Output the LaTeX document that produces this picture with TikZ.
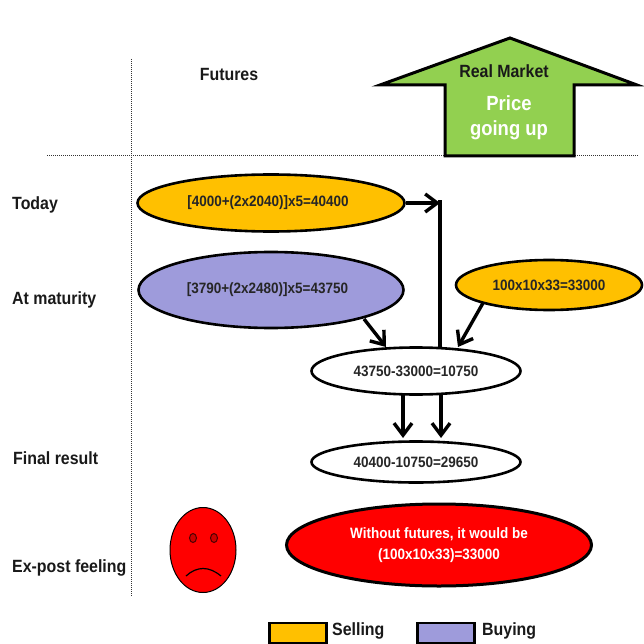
\documentclass[tikz,border=0pt]{standalone}
\usepackage{fontspec}
\setmainfont[FakeStretch=0.9]{Liberation Sans}
\usetikzlibrary{arrows.meta,shapes.geometric}
\definecolor{sellc}{HTML}{FFC000}
\definecolor{buyc}{HTML}{9E9BDB}
\definecolor{arrowg}{HTML}{92D050}
\tikzset{
 lab/.style={font=\fontsize{17.7}{20}\selectfont\bfseries,inner sep=0pt,text=black!90},
 oval/.style={ellipse,draw=black,line width=2.6pt,inner sep=0pt,font=\fontsize{15}{21}\selectfont\bfseries,text=black!85},
 conn/.style={line width=3.4pt,-{Straight Barb[length=12pt,width=18pt,line width=3.4pt]}},
 plainconn/.style={line width=3.2pt},
 dotline/.style={line width=1pt,densely dotted,black!80},
 legendbox/.style={draw=black,line width=2.6pt,inner sep=0pt,minimum width=57pt,minimum height=20pt}
}
\begin{document}
\begin{tikzpicture}[x=1pt,y=-1pt]
\useasboundingbox (0,0) rectangle (643,644);
% dotted frame lines
\coordinate (vt) at (131,59); \coordinate (vb) at (131,597);
\coordinate (hl) at (47,156); \coordinate (hr) at (638,156);
\draw[dotline] (vt) -- (vb);
\draw[dotline] (hl) -- (hr);
% real market arrow
\draw[fill=arrowg,line width=3pt,line join=miter] (510,38) -- (637,85) -- (574,85) -- (574,156) -- (445,156) -- (445,85) -- (380,85) -- cycle;
\node[lab] (rm) at (504,71.5) {Real Market};
\node[font=\fontsize{20.5}{25}\selectfont\bfseries,text=white,align=center,inner sep=0pt] (pg) at (509,118) {Price\\going up};
% row labels
\node[lab] (fut) at (229,74.5) {Futures};
\node[lab,anchor=west] (today) at (12,205) {Today};
\node[lab,anchor=west] (mat) at (12,300) {At maturity};
\node[lab,anchor=west] (fin) at (13,458.5) {Final result};
\node[lab,anchor=west] (exp) at (12,568) {Ex-post feeling};
% ovals
\node[oval,fill=sellc,minimum width=267pt,minimum height=57pt] (a) at (271,203) {\raisebox{-1pt}{[4000+(2x2040)]x5=40400}\kern6pt};
\node[oval,fill=buyc,minimum width=265pt,minimum height=76pt] (b) at (271,290) {\raisebox{-2.5pt}{[3790+(2x2480)]x5=43750}\kern7pt};
\node[oval,fill=sellc,minimum width=186pt,minimum height=50pt] (c) at (549,285) {100x10x33=33000};
\node[oval,fill=white,minimum width=209pt,minimum height=47pt] (d) at (416,371) {43750-33000=10750};
\node[oval,fill=white,minimum width=209pt,minimum height=41pt] (e) at (416,462) {40400-10750=29650};
\node[oval,fill=red,line width=3pt,minimum width=305pt,minimum height=82pt,text=white,align=center] (f) at (439,545) {\raisebox{-2pt}{Without futures, it would be}\\\raisebox{-2pt}{(100x10x33)=33000}};
% connectors
\coordinate (j) at (440,200);
\coordinate (e1) at (403,438); \coordinate (e2) at (441,438);
\coordinate (d1) at (403,394); \coordinate (d2) at (441,394);
\coordinate (dj) at (440,347);
\coordinate (bs) at (364,319); \coordinate (bt) at (386,347);
\coordinate (cs) at (483,303); \coordinate (ct) at (458,347);
\draw[plainconn] (dj) -- (j);
\draw[conn] (a.east) -- (a.east -| j);
\draw[conn] (bs) -- (bt);
\draw[conn] (cs) -- (ct);
\draw[conn] (d1) -- (e1);
\draw[conn] (d2) -- (e2);
% face
\node[ellipse,draw=black,line width=1pt,fill=red,minimum width=66pt,minimum height=85pt,inner sep=0pt] (face) at (203,550) {};
\node[ellipse,draw=black!70!red,line width=1pt,fill=red!80!black,minimum width=7pt,minimum height=9pt,inner sep=0pt] (el) at (193,538) {};
\node[ellipse,draw=black!70!red,line width=1pt,fill=red!80!black,minimum width=7pt,minimum height=9pt,inner sep=0pt] (er) at (214,538) {};
\draw[line width=1.2pt] (186,576) .. controls (197,566) and (209,566) .. (221,576);
% legend
\node[legendbox,fill=sellc] (ls) at (298,633) {};
\node[lab,anchor=west] (lst) at (332,631) {Selling};
\node[legendbox,fill=buyc] (lb) at (446,633) {};
\node[lab,anchor=west] (lbt) at (482,631) {Buying};
\end{tikzpicture}
\end{document}
